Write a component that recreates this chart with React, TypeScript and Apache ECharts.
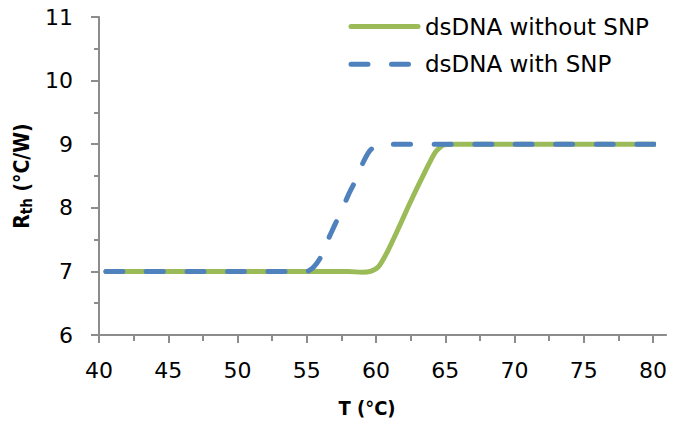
import React, { useEffect, useRef } from "react";
import * as echarts from "echarts";

const X_MIN = 40;
const X_MAX = 80;
const X_STEP = 5;
const Y_MIN = 6;
const Y_MAX = 11;
const Y_STEP = 1;

const SERIES_NAMES = ["dsDNA without SNP", "dsDNA with SNP"];

// dsDNA without SNP: [T (°C), Rth (°C/W)]
const withoutT = [40.5, 50, 58, 59, 59.6, 60.2, 60.8, 61.5, 62.5, 63.5, 64.3, 64.9, 65.6, 70, 80.5];
const withoutR = [7, 7, 7, 6.985, 7.0, 7.08, 7.3, 7.62, 8.1, 8.55, 8.88, 8.99, 9, 9, 9];

// dsDNA with SNP
const withT = [40.5, 50, 54, 55, 55.5, 56, 56.5, 57, 57.5, 58, 58.5, 59, 59.5, 60, 60.7, 70, 80.5];
const withR = [7, 7, 7, 7.0, 7.07, 7.22, 7.48, 7.72, 7.95, 8.2, 8.42, 8.68, 8.88, 8.98, 9, 9, 9];

const GREEN = "#9BBB59";
const BLUE = "#4F81BD";
const AXIS_COLOR = "#8c8c8c";
const FONT = "DejaVu Sans, Verdana, sans-serif";
const NAME_FONT = "DejaVu Sans Condensed, DejaVu Sans, sans-serif";

const zip = (xs: number[], ys: number[]) => xs.map((x, i) => [x, ys[i]]);

export default function App() {
  const ref = useRef<HTMLDivElement>(null);

  useEffect(() => {
    if (!ref.current) return;
    const chart = echarts.init(ref.current, null, { renderer: "svg" });
    chart.setOption({
      animation: false,
      backgroundColor: "#ffffff",
      grid: { left: 99, right: 22, top: 17, bottom: 90, outerBoundsMode: "none" },
      legend: {
        orient: "vertical",
        left: 348.5,
        top: 15,
        padding: 0,
        itemWidth: 67,
        itemHeight: 22,
        itemGap: 14.7,
        textStyle: { fontFamily: FONT, fontSize: 23, color: "#000", padding: [0, 0, 0, 2] },
        lineStyle: { width: 5, cap: "round" },
        itemStyle: { opacity: 0, borderWidth: 0 },
        data: SERIES_NAMES,
      },
      xAxis: {
        type: "value",
        min: X_MIN,
        max: X_MAX,
        interval: X_STEP,
        name: "T (°C)",
        nameLocation: "middle",
        nameGap: 63,
        nameTextStyle: {
          fontFamily: NAME_FONT,
          fontWeight: "bold",
          fontSize: 20,
          color: "#000",
          padding: [0, 18, 0, 0],
        },
        axisLine: { show: true, lineStyle: { color: AXIS_COLOR, width: 2 } },
        axisTick: { show: true, length: 8, lineStyle: { color: AXIS_COLOR, width: 2 } },
        minorTick: { show: true, splitNumber: 2, length: 6, lineStyle: { color: AXIS_COLOR, width: 2 } },
        splitLine: { show: false },
        axisLabel: { fontFamily: FONT, fontSize: 22, color: "#000", margin: 24 },
      },
      yAxis: {
        type: "value",
        min: Y_MIN,
        max: Y_MAX,
        interval: Y_STEP,
        name: "{b|R}{s|th}{b| (°C/W)}",
        nameLocation: "middle",
        nameRotate: 90,
        nameGap: 62,
        nameTextStyle: {
          color: "#000",
          rich: {
            b: { fontFamily: NAME_FONT, fontWeight: "bold", fontSize: 21, color: "#000" },
            s: { fontFamily: NAME_FONT, fontWeight: "bold", fontSize: 15, color: "#000", padding: [10, 0, 0, 0] },
          },
        },
        axisLine: { show: true, lineStyle: { color: AXIS_COLOR, width: 2 } },
        axisTick: { show: true, length: 8, lineStyle: { color: AXIS_COLOR, width: 2 } },
        minorTick: { show: true, splitNumber: 2, length: 5, lineStyle: { color: AXIS_COLOR, width: 2 } },
        splitLine: { show: false },
        axisLabel: { fontFamily: FONT, fontSize: 22, color: "#000", margin: 26 },
      },
      series: [
        {
          name: SERIES_NAMES[0],
          type: "line",
          data: zip(withoutT, withoutR),
          showSymbol: false,
          symbol: "none",
          smooth: 0.25,
          clip: false,
          z: 2,
          lineStyle: { color: GREEN, width: 5, cap: "round", join: "round" },
          itemStyle: { color: GREEN },
        },
        {
          name: SERIES_NAMES[1],
          type: "line",
          data: zip(withT, withR),
          showSymbol: false,
          symbol: "none",
          smooth: 0.25,
          clip: false,
          z: 3,
          lineStyle: { color: BLUE, width: 5, type: [17, 23.5], cap: "round", join: "round" },
          itemStyle: { color: BLUE },
        },
      ],
    });

    const xEnd = chart.convertToPixel({ xAxisIndex: 0 }, X_MAX) as number;
    const xExt = chart.convertToPixel({ xAxisIndex: 0 }, X_MAX + 1) as number;
    const yBase = chart.convertToPixel({ yAxisIndex: 0 }, Y_MIN) as number;
    chart.setOption({
      graphic: [
        {
          type: "line",
          shape: { x1: xEnd, y1: yBase, x2: xExt, y2: yBase },
          style: { stroke: AXIS_COLOR, lineWidth: 2 },
          silent: true,
        },
      ],
    });

    return () => chart.dispose();
  }, []);

  return (
    <div
      ref={ref}
      style={{ position: "fixed", left: 0, top: 0, width: 675, height: 425 }}
    />
  );
}
